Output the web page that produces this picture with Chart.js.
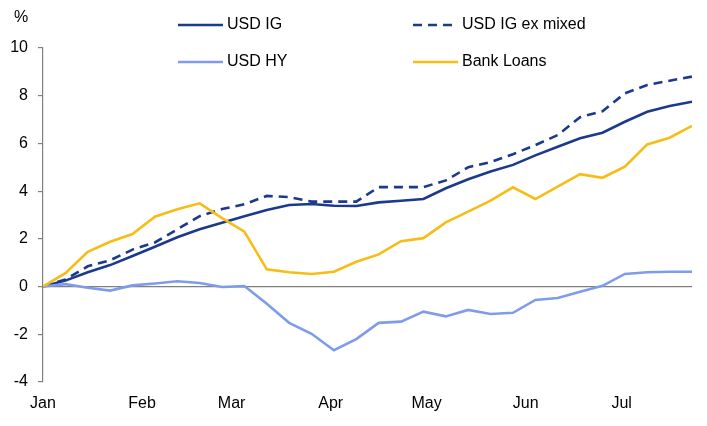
<!DOCTYPE html>
<html>
<head>
<meta charset="utf-8">
<script src="https://cdn.jsdelivr.net/npm/chart.js@4.4.1/dist/chart.umd.min.js"></script>
<style>
  html, body { margin: 0; padding: 0; background: #fff; }
  #wrap { position: relative; width: 707px; height: 426px; }
</style>
</head>
<body>
<div id="wrap"><canvas id="returnsChart" width="707" height="426"></canvas></div>
<script>
// Тижневі точки (день від початку року)
const weekDays = [0, 7, 14, 21, 28, 35, 42, 49, 56, 63, 70, 77, 84, 91, 98,
                  105, 112, 119, 126, 133, 140, 147, 154, 161, 168, 175, 182, 189, 196, 203];

// Підписи місяців і їх позиції по осі X
const monthLabels = ['Jan', 'Feb', 'Mar', 'Apr', 'May', 'Jun', 'Jul'];
const monthDays = [0, 31, 59, 90, 120, 151, 181];

const yTicks = [-4, -2, 0, 2, 4, 6, 8, 10];

// Значення серій, %
const usdIg = [0, 0.25, 0.6, 0.9, 1.28, 1.67, 2.07, 2.4, 2.68, 2.95,
               3.21, 3.42, 3.46, 3.39, 3.38, 3.53, 3.6, 3.67, 4.12, 4.5,
               4.82, 5.1, 5.5, 5.86, 6.22, 6.45, 6.91, 7.33, 7.57, 7.75];
const usdIgExMixed = [0, 0.3, 0.85, 1.1, 1.55, 1.85, 2.4, 2.95, 3.25, 3.45,
                      3.8, 3.75, 3.56, 3.56, 3.56, 4.17, 4.17, 4.17, 4.45, 5.0,
                      5.22, 5.55, 5.93, 6.35, 7.1, 7.35, 8.1, 8.45, 8.63, 8.8];
const usdHy = [0, 0.1, -0.05, -0.17, 0.05, 0.13, 0.22, 0.15, -0.02, 0.02,
               -0.72, -1.52, -1.98, -2.67, -2.2, -1.52, -1.47, -1.05, -1.25, -0.98,
               -1.15, -1.1, -0.56, -0.48, -0.22, 0.03, 0.53, 0.6, 0.62, 0.62];
const bankLoans = [0, 0.56, 1.46, 1.88, 2.2, 2.93, 3.24, 3.49, 2.87, 2.3,
                   0.72, 0.6, 0.53, 0.62, 1.04, 1.35, 1.9, 2.03, 2.69, 3.14,
                   3.6, 4.16, 3.67, 4.19, 4.71, 4.56, 5.03, 5.96, 6.24, 6.74];

const FONT = "'Liberation Sans', Arial, sans-serif";
const AXIS_GREY = '#808080';

function toPoints(values) {
    return values.map((v, i) => ({ x: weekDays[i], y: v }));
}

// Легенда 2x2 і підпис "%" малюємо самі
const legendPlugin = {
    id: 'gridLegend',
    afterDraw(chart) {
        const ctx = chart.ctx;
        const slots = [
            { x: 178, y: 25 }, { x: 413, y: 25 },
            { x: 178, y: 62 }, { x: 413, y: 62 }
        ];
        ctx.save();
        ctx.font = '16px ' + FONT;
        ctx.fillStyle = '#000';
        ctx.textBaseline = 'middle';
        ctx.textAlign = 'left';
        ctx.fillText('%', 14, 18);

        chart.data.datasets.forEach((ds, i) => {
            const s = slots[i];
            ctx.beginPath();
            ctx.strokeStyle = ds.borderColor;
            ctx.lineWidth = ds.borderWidth;
            ctx.setLineDash(ds.borderDash || []);
            ctx.moveTo(s.x, s.y);
            ctx.lineTo(s.x + 45, s.y);
            ctx.stroke();
            ctx.setLineDash([]);
            ctx.fillText(ds.label, s.x + 49, s.y);
        });
        ctx.restore();
    }
};

const canvas = document.getElementById('returnsChart');
new Chart(canvas.getContext('2d'), {
    type: 'line',
    plugins: [legendPlugin],
    data: {
        datasets: [
            { label: 'USD IG', data: toPoints(usdIg), borderColor: '#1b3a8c', borderWidth: 2.6, order: 3 },
            { label: 'USD IG ex mixed', data: toPoints(usdIgExMixed), borderColor: '#1b3a8c', borderWidth: 2.6, borderDash: [9, 6], order: 2 },
            { label: 'USD HY', data: toPoints(usdHy), borderColor: '#7f9cec', borderWidth: 2.6, order: 1 },
            { label: 'Bank Loans', data: toPoints(bankLoans), borderColor: '#f6bd16', borderWidth: 2.6, order: 0 }
        ]
    },
    options: {
        responsive: false,
        animation: false,
        elements: { point: { radius: 0 }, line: { tension: 0 } },
        layout: { padding: { top: 48, right: 15, left: 0, bottom: 0 } },
        plugins: {
            legend: { display: false },
            tooltip: { enabled: false }
        },
        scales: {
            x: {
                type: 'linear',
                min: 0,
                max: weekDays[weekDays.length - 1],
                afterBuildTicks: (scale) => {
                    scale.ticks = monthDays.map(v => ({ value: v }));
                },
                afterFit: (scale) => { scale.height = 44; },
                grid: { display: false, drawTicks: false },
                border: { display: false },
                ticks: {
                    color: '#000',
                    font: { family: FONT, size: 16 },
                    padding: 12,
                    maxRotation: 0,
                    autoSkip: false,
                    callback: (value) => monthLabels[monthDays.indexOf(value)]
                }
            },
            y: {
                min: yTicks[0],
                max: yTicks[yTicks.length - 1],
                afterBuildTicks: (scale) => {
                    scale.ticks = yTicks.map(v => ({ value: v }));
                },
                afterFit: (scale) => { scale.width = 43; },
                grid: {
                    color: (c) => (c.tick && c.tick.value === 0) ? AXIS_GREY : 'rgba(0,0,0,0)',
                    tickColor: AXIS_GREY,
                    tickLength: 5,
                    lineWidth: 1.2
                },
                border: { display: true, color: AXIS_GREY, width: 1.2 },
                ticks: {
                    color: '#000',
                    font: { family: FONT, size: 16 },
                    padding: 10
                }
            }
        }
    }
});
</script>
</body>
</html>
